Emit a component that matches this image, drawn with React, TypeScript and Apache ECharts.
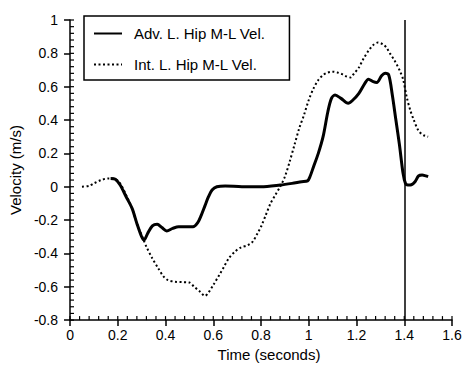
import React, { useEffect, useRef } from "react";
import * as echarts from "echarts";

const advTime = [0.17, 0.19, 0.21, 0.235, 0.26, 0.28, 0.3, 0.31, 0.325, 0.345, 0.365, 0.385, 0.405, 0.43, 0.455, 0.49, 0.515, 0.535, 0.55, 0.565, 0.58, 0.595, 0.615, 0.65, 0.72, 0.8, 0.88, 0.93, 0.97, 0.995, 1.005, 1.02, 1.04, 1.06, 1.08, 1.095, 1.11, 1.135, 1.165, 1.185, 1.21, 1.235, 1.25, 1.27, 1.285, 1.305, 1.32, 1.335, 1.35, 1.365, 1.38, 1.395, 1.405, 1.415, 1.43, 1.445, 1.46, 1.475, 1.49, 1.5];
const advVel = [0.05, 0.045, 0.01, -0.06, -0.13, -0.22, -0.3, -0.32, -0.28, -0.235, -0.225, -0.245, -0.265, -0.25, -0.24, -0.24, -0.24, -0.215, -0.17, -0.115, -0.06, -0.02, 0.0, 0.005, 0.0, 0.0, 0.01, 0.02, 0.03, 0.035, 0.06, 0.12, 0.2, 0.3, 0.45, 0.53, 0.55, 0.53, 0.5, 0.52, 0.56, 0.62, 0.645, 0.63, 0.625, 0.665, 0.68, 0.67, 0.55, 0.4, 0.25, 0.08, 0.02, 0.01, 0.012, 0.03, 0.065, 0.07, 0.065, 0.06];

const intTime = [0.05, 0.08, 0.1, 0.13, 0.16, 0.19, 0.21, 0.235, 0.26, 0.28, 0.3, 0.32, 0.345, 0.37, 0.39, 0.41, 0.44, 0.47, 0.5, 0.52, 0.545, 0.565, 0.58, 0.6, 0.625, 0.645, 0.665, 0.69, 0.715, 0.745, 0.765, 0.785, 0.8, 0.82, 0.84, 0.86, 0.88, 0.9, 0.92, 0.94, 0.96, 0.98, 1.0, 1.02, 1.04, 1.06, 1.08, 1.1, 1.12, 1.14, 1.16, 1.175, 1.19, 1.21, 1.23, 1.25, 1.27, 1.29, 1.31, 1.325, 1.34, 1.36, 1.38, 1.395, 1.41, 1.425, 1.44, 1.46, 1.48, 1.5];
const intVel = [0.0, 0.005, 0.02, 0.04, 0.05, 0.045, 0.02, -0.05, -0.13, -0.22, -0.29, -0.36, -0.43, -0.49, -0.535, -0.56, -0.57, -0.572, -0.575, -0.6, -0.63, -0.655, -0.635, -0.59, -0.53, -0.48, -0.43, -0.39, -0.365, -0.35, -0.33, -0.28, -0.24, -0.17, -0.1, -0.05, 0.0, 0.06, 0.15, 0.25, 0.35, 0.43, 0.52, 0.59, 0.64, 0.67, 0.685, 0.69, 0.685, 0.675, 0.66, 0.655, 0.68, 0.715, 0.77, 0.815, 0.85, 0.865, 0.855, 0.835, 0.8, 0.755, 0.7, 0.645, 0.54, 0.46, 0.4, 0.335, 0.31, 0.3];

const seriesNames = ["Adv. L. Hip M-L Vel.", "Int. L. Hip M-L Vel."];
const markerTime = 1.4;
const xRange = { min: 0, max: 1.6, step: 0.2, minorCount: 40 };
const yRange = { min: -0.8, max: 1, step: 0.2, minorCount: 45 };
const xAxisName = "Time (seconds)";
const yAxisName = "Velocity (m/s)";

const FONT = "Liberation Sans, Arial, Helvetica, sans-serif";

export default function App() {
  const ref = useRef<HTMLDivElement>(null);
  useEffect(() => {
    if (!ref.current) return;
    const chart = echarts.init(ref.current, null, { renderer: "svg" });
    const advData = advTime.map((t, i) => [t, advVel[i]]);
    const intData = intTime.map((t, i) => [t, intVel[i]]);
    const xMinor = Array.from({ length: xRange.minorCount + 1 }, (_, i) =>
      Math.round((xRange.min + (i * (xRange.max - xRange.min)) / xRange.minorCount) * 1000) / 1000
    );
    const yMinor = Array.from({ length: yRange.minorCount + 1 }, (_, i) =>
      Math.round((yRange.min + (i * (yRange.max - yRange.min)) / yRange.minorCount) * 1000) / 1000
    );
    const tickStyle = { stroke: "#000", lineWidth: 1.2 };
    chart.setOption({
      animation: false,
      backgroundColor: "#fff",
      grid: { left: 63, right: 15, top: 20, bottom: 45 },
      legend: {
        orient: "vertical",
        left: 84,
        top: 16,
        padding: [10, 24, 8, 9],
        itemWidth: 28,
        itemHeight: 14,
        itemGap: 16,
        borderColor: "#000",
        borderWidth: 1.5,
        backgroundColor: "#fff",
        itemStyle: { opacity: 0 },
        textStyle: { fontFamily: FONT, fontSize: 15, color: "#000", padding: [0, 0, 0, 7] },
        data: seriesNames,
      },
      xAxis: {
        type: "value",
        min: xRange.min,
        max: xRange.max,
        interval: xRange.step,
        axisLine: { show: true, onZero: false, lineStyle: { color: "#000", width: 1.5 } },
        axisTick: { show: true, inside: false, length: 6, lineStyle: { color: "#000", width: 1.5 } },
        axisLabel: { color: "#000", fontFamily: FONT, fontSize: 14, margin: 8 },
        splitLine: { show: false },
        name: xAxisName,
        nameLocation: "middle",
        nameGap: 24,
        nameTextStyle: { color: "#000", fontFamily: FONT, fontSize: 15, padding: [0, 0, 0, 16] },
      },
      yAxis: {
        type: "value",
        min: yRange.min,
        max: yRange.max,
        interval: yRange.step,
        axisLine: { show: true, onZero: false, lineStyle: { color: "#000", width: 1.5 } },
        axisTick: { show: true, inside: false, length: 6, lineStyle: { color: "#000", width: 1.5 } },
        axisLabel: { color: "#000", fontFamily: FONT, fontSize: 14, margin: 12 },
        splitLine: { show: false },
        name: yAxisName,
        nameLocation: "middle",
        nameGap: 40,
        nameTextStyle: { color: "#000", fontFamily: FONT, fontSize: 15 },
      },
      series: [
        {
          name: seriesNames[0],
          type: "line",
          data: advData,
          showSymbol: false,
          symbol: "none",
          smooth: 0.3,
          lineStyle: { color: "#000", width: 3, type: "solid" },
          itemStyle: { color: "#000" },
          markLine: {
            silent: true,
            symbol: ["none", "none"],
            label: { show: false },
            lineStyle: { color: "#000", width: 1.5, type: "solid" },
            data: [{ xAxis: markerTime }],
          },
        },
        {
          name: seriesNames[1],
          type: "line",
          data: intData,
          showSymbol: false,
          symbol: "none",
          smooth: 0.3,
          lineStyle: { color: "#000", width: 2, type: [2, 2.5] },
          itemStyle: { color: "#000" },
        },
        {
          name: "xMinorTicks",
          type: "custom",
          silent: true,
          clip: false,
          z: 5,
          data: xMinor.map((v) => [v, yRange.min]),
          encode: { x: 0, y: 1 },
          renderItem: (params: any, api: any) => {
            const p = api.coord([api.value(0), api.value(1)]);
            return {
              type: "line",
              shape: { x1: p[0], y1: p[1], x2: p[0], y2: p[1] - 4 },
              style: tickStyle,
            };
          },
        },
        {
          name: "yMinorTicks",
          type: "custom",
          silent: true,
          clip: false,
          z: 5,
          data: yMinor.map((v) => [xRange.min, v]),
          encode: { x: 0, y: 1 },
          renderItem: (params: any, api: any) => {
            const p = api.coord([api.value(0), api.value(1)]);
            return {
              type: "line",
              shape: { x1: p[0], y1: p[1], x2: p[0] + 4, y2: p[1] },
              style: tickStyle,
            };
          },
        },
      ],
    });
    return () => chart.dispose();
  }, []);
  return (
    <div
      ref={ref}
      style={{ position: "fixed", left: 0, top: 0, width: 467, height: 367, background: "#fff" }}
    />
  );
}
